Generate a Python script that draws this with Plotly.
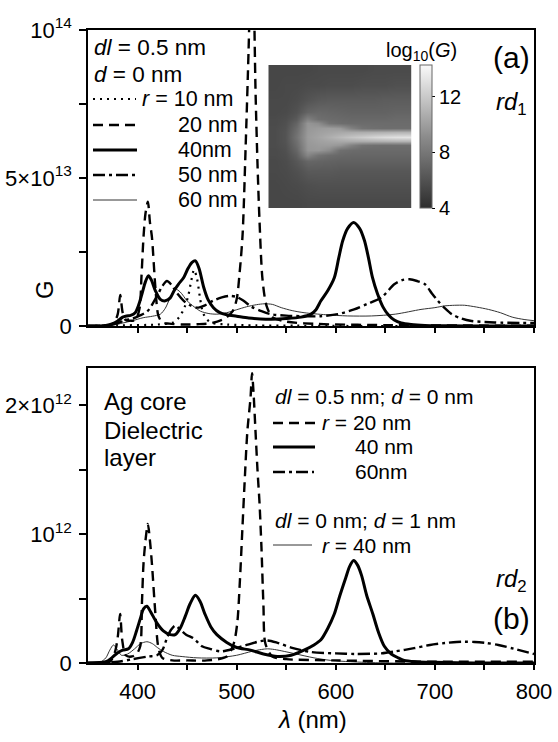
import plotly.graph_objects as go

# ---------------- data ----------------
# Panel (a): G in units of 1e13, dl = 0.5 nm, d = 0 nm
A_SCALE = 1e13
A_R10_LAM = [350, 380, 420, 436, 442, 447, 451, 454, 457, 460, 463, 466, 470, 476, 490, 520, 560, 620, 700, 800]
A_R10_G = [0, 0.02, 0.05, 0.12, 0.3, 0.6, 1.0, 1.5, 1.9, 1.6, 0.95, 0.45, 0.22, 0.1, 0.05, 0.02, 0.01, 0, 0, 0]

A_R20_LAM = [350, 370, 376, 380, 382.5, 385, 388, 393, 398, 402, 404, 406, 408, 410.4, 412.5, 414.5, 418, 421, 425,
             432, 445, 460, 475, 488, 496, 500, 503, 506, 509, 512, 514, 515.5, 517, 519, 521, 523, 526, 530, 536,
             550, 580, 650, 800]
A_R20_G = [0, 0.02, 0.1, 0.4, 1.05, 0.45, 0.2, 0.18, 0.2, 0.6, 1.7, 3.0, 3.8, 4.2, 3.5, 3.0, 1.3, 0.35, 0.12,
           0.08, 0.05, 0.06, 0.1, 0.25, 0.5, 0.9, 1.8, 3.1, 6.0, 9.3, 12.0, 14.0, 12.0, 8.0, 5.5, 3.6, 1.6, 0.7, 0.3,
           0.15, 0.07, 0.03, 0.01]

A_R40_LAM = [350, 368, 375, 380, 385, 389, 393, 397.6, 401, 404.4, 408, 411, 414, 418, 423, 428, 433, 437, 441,
             446.6, 451, 455, 458.4, 462, 466.8, 471, 476.6, 483, 490, 500, 512, 524, 535, 550, 565, 575, 580, 585,
             592, 598.6, 603, 607, 612, 618, 624, 629, 633, 637, 642, 648, 653, 659, 666, 676, 690, 710, 750, 800]
A_R40_G = [0, 0.02, 0.08, 0.17, 0.3, 0.34, 0.36, 0.45, 0.7, 1.08, 1.5, 1.7, 1.55, 1.19, 0.9, 0.85, 0.95, 1.2, 1.4,
           1.64, 1.95, 2.15, 2.2, 1.95, 1.3, 0.9, 0.62, 0.45, 0.38, 0.33, 0.27, 0.24, 0.23, 0.25, 0.3, 0.4, 0.55,
           0.85, 1.2, 1.64, 2.3, 2.88, 3.3, 3.5, 3.3, 2.88, 2.3, 1.64, 1.1, 0.62, 0.38, 0.2, 0.1, 0.05, 0.02, 0.01,
           0, 0]

A_R50_LAM = [350, 372, 380, 388, 395, 402, 410, 416, 421, 425, 429.7, 434, 440, 446.6, 453, 460, 468, 476, 485, 493,
             500, 507, 515, 525, 534, 550, 570, 585, 602, 618.5, 632, 646, 659, 667, 674.5, 682, 690, 697, 703, 710,
             717, 727, 737, 760, 800]
A_R50_G = [0, 0.03, 0.1, 0.2, 0.25, 0.35, 0.5, 0.8, 1.1, 1.35, 1.52, 1.4, 1.1, 0.85, 0.7, 0.62, 0.7, 0.85, 0.97,
           1.02, 0.98, 0.85, 0.65, 0.5, 0.4, 0.35, 0.33, 0.33, 0.4, 0.56, 0.75, 0.96, 1.41, 1.55, 1.58, 1.52, 1.41,
           1.1, 0.85, 0.6, 0.4, 0.25, 0.17, 0.12, 0.1]

A_R60_LAM = [350, 375, 385, 395, 405.7, 415, 423, 428, 433, 438, 443, 450, 457, 463.5, 472, 480, 490, 500, 510, 520,
             528, 536, 545, 556, 568, 590, 612, 636, 660, 686, 700, 710, 720, 730, 742, 754, 766, 778, 790, 800]
A_R60_G = [0, 0.03, 0.1, 0.18, 0.28, 0.33, 0.4, 0.6, 0.96, 1.25, 1.15, 0.85, 0.65, 0.5, 0.42, 0.4, 0.45, 0.55, 0.65,
           0.72, 0.75, 0.73, 0.62, 0.52, 0.45, 0.38, 0.34, 0.34, 0.4, 0.56, 0.62, 0.68, 0.7, 0.7, 0.64, 0.56, 0.45,
           0.3, 0.22, 0.18]

# Panel (b): G in units of 1e12
B_SCALE = 1e12
B_R20_LAM = [350, 372, 377, 380, 382.4, 384.5, 388, 394, 399, 402.7, 404.4, 406, 408, 410.4, 412.5, 414.5, 418, 421,
             425, 435, 450, 470, 490, 497, 500.6, 503, 505.7, 508, 510.8, 514, 515.5, 517, 519, 521, 523, 525, 527,
             529, 536, 550, 600, 700, 800]
B_R20_G = [0, 0.01, 0.08, 0.2, 0.38, 0.18, 0.06, 0.05, 0.07, 0.13, 0.46, 0.77, 0.95, 1.08, 0.95, 0.77, 0.38, 0.12,
           0.04, 0.02, 0.02, 0.02, 0.05, 0.15, 0.31, 0.6, 1.03, 1.4, 1.8, 2.06, 2.25, 2.1, 1.8, 1.5, 1.25, 0.9, 0.45,
           0.15, 0.05, 0.03, 0.02, 0.01, 0.01]

B_R40_LAM = [350, 368, 374, 380, 385, 390.8, 395, 399, 403, 406, 409.4, 413, 419.6, 426, 433, 438, 443, 448, 453,
             458.4, 463, 468, 474, 480, 490, 500, 514, 527, 541, 555, 568, 578, 585, 592, 598.5, 604, 610, 614, 618,
             622, 626, 631, 637.4, 643, 649, 656, 663, 669, 680, 700, 740, 800]
B_R40_G = [0, 0.01, 0.04, 0.08, 0.1, 0.11, 0.16, 0.25, 0.35, 0.42, 0.44, 0.4, 0.31, 0.25, 0.22, 0.22, 0.27, 0.36,
           0.46, 0.525, 0.48, 0.38, 0.28, 0.22, 0.16, 0.12, 0.1, 0.07, 0.05, 0.06, 0.1, 0.14, 0.18, 0.27, 0.38, 0.52,
           0.66, 0.75, 0.795, 0.76, 0.68, 0.53, 0.38, 0.24, 0.13, 0.07, 0.04, 0.02, 0.01, 0.005, 0, 0]

B_R60_LAM = [350, 380, 395, 410, 419.6, 425, 430, 434, 438, 443, 449, 456.7, 465, 473, 483.7, 497, 510, 524, 531,
             540, 555, 575, 600, 620, 646, 660, 679, 695, 710, 722, 730, 740, 752, 764, 780, 800]
B_R60_G = [0, 0.01, 0.03, 0.05, 0.06, 0.1, 0.2, 0.26, 0.29, 0.26, 0.22, 0.19, 0.13, 0.11, 0.09, 0.11, 0.14, 0.17,
           0.175, 0.16, 0.12, 0.085, 0.075, 0.07, 0.075, 0.09, 0.115, 0.14, 0.155, 0.163, 0.165, 0.163, 0.155, 0.14,
           0.11, 0.07]

# dl = 0 nm; d = 1 nm, r = 40 nm
B_D1_LAM = [350, 362, 368, 372, 375.7, 379, 383.8, 390, 397, 403, 409.4, 415, 420, 426, 435, 445, 460, 480, 500, 515,
            525, 531, 538, 548, 560, 578, 595, 615, 650, 800]
B_D1_G = [0, 0.005, 0.04, 0.1, 0.14, 0.11, 0.06, 0.07, 0.11, 0.15, 0.165, 0.15, 0.12, 0.09, 0.06, 0.05, 0.04, 0.04,
          0.06, 0.09, 0.105, 0.11, 0.105, 0.09, 0.07, 0.04, 0.02, 0.01, 0, 0]

# Inset map: log10(G) on a coarse grid (columns left->right, rows top->bottom)
INSET_U = [5.5, 16.5, 27.5, 38.5, 49.5, 60.5, 71.5, 82.5, 93.5, 104.5, 115.5, 126.5, 137.5]
INSET_V = [5, 20, 35, 47, 54, 58, 63, 67, 71.5, 76, 80, 85, 90, 96, 106, 120, 138]
INSET_Z = [
    [5.4, 5.4, 5.4, 5.4, 5.5, 5.5, 5.5, 5.5, 5.5, 5.6, 5.6, 5.6, 5.6],
    [5.4, 5.5, 5.5, 5.6, 5.6, 5.7, 5.7, 5.7, 5.8, 5.8, 5.8, 5.9, 5.9],
    [5.5, 5.5, 5.7, 6.1, 6.4, 6.5, 6.5, 6.5, 6.5, 6.5, 6.6, 6.6, 6.6],
    [5.5, 5.6, 6.0, 7.0, 7.2, 7.1, 7.0, 6.9, 6.9, 6.9, 6.9, 7.0, 7.0],
    [5.6, 5.8, 6.5, 8.6, 7.6, 7.4, 7.3, 7.2, 7.2, 7.2, 7.2, 7.3, 7.3],
    [5.6, 5.9, 7.0, 9.6, 9.2, 7.8, 7.5, 7.4, 7.4, 7.4, 7.4, 7.4, 7.4],
    [5.7, 6.0, 7.4, 9.7, 9.9, 10.0, 9.8, 8.6, 7.8, 7.6, 7.5, 7.5, 7.5],
    [5.7, 6.1, 7.6, 9.8, 10.1, 10.3, 10.5, 10.6, 10.7, 10.8, 10.9, 11.0, 11.0],
    [5.7, 6.1, 7.8, 9.9, 10.3, 10.8, 11.3, 11.8, 12.2, 12.6, 12.9, 13.1, 13.2],
    [5.7, 6.1, 7.6, 9.8, 10.1, 10.3, 10.5, 10.6, 10.7, 10.8, 10.9, 11.0, 11.0],
    [5.7, 6.0, 7.4, 9.7, 9.9, 9.9, 9.6, 8.6, 7.8, 7.6, 7.5, 7.5, 7.5],
    [5.6, 5.9, 7.1, 9.6, 9.7, 9.1, 7.6, 7.4, 7.3, 7.3, 7.3, 7.3, 7.3],
    [5.6, 5.8, 6.7, 8.8, 7.8, 7.4, 7.2, 7.1, 7.1, 7.1, 7.1, 7.1, 7.1],
    [5.5, 5.7, 6.3, 7.1, 7.0, 6.9, 6.8, 6.8, 6.8, 6.8, 6.8, 6.8, 6.8],
    [5.5, 5.6, 5.9, 6.4, 6.4, 6.4, 6.3, 6.3, 6.3, 6.3, 6.3, 6.3, 6.3],
    [5.4, 5.5, 5.6, 5.8, 5.9, 5.9, 5.9, 5.9, 5.9, 5.9, 5.9, 5.9, 5.9],
    [5.4, 5.4, 5.4, 5.5, 5.5, 5.5, 5.5, 5.5, 5.5, 5.5, 5.5, 5.5, 5.5],
]

# ticks
X_MAJOR = [400, 500, 600, 700, 800]
X_MAJOR_TEXT = ["400", "500", "600", "700", "800"]
X_MINOR = [450, 550, 650, 750]
X_TOP = [400, 450, 500, 550, 600, 650, 700, 750]
YA_MAJOR = [0, 5e13, 1e14]
YA_TEXT = ["0", "5\u00d710<sup>13</sup>", "10<sup>14</sup>"]
YA_MINOR = [2.5e13, 7.5e13]
YB_MAJOR = [0, 1e12, 2e12]
YB_TEXT = ["0", "10<sup>12</sup>", "2\u00d710<sup>12</sup>"]
YB_MINOR = [0.5e12, 1.5e12]
CB_TICKS = [4, 8, 12]

# ---------------- geometry ----------------
W, H = 558, 742
ML, MR, MT, MB = 88, 24, 30, 79
PW, PH = W - ML - MR, H - MT - MB


def px(x):
    return (x - ML) / PW


def py(y):
    return (H - MB - y) / PH


FONT = "Liberation Sans, Arial, Helvetica, sans-serif"

STY = {
    "dot": dict(color="black", width=2.2, dash="2px,5px"),
    "dash": dict(color="black", width=2.4, dash="10px,6px"),
    "solid": dict(color="black", width=3),
    "dashdot": dict(color="black", width=2.4, dash="12px,4px,3px,4px"),
    "thin": dict(color="#333333", width=1),
}

fig = go.Figure()


def add(lam, g, scale, style, xa, ya):
    fig.add_trace(go.Scatter(
        x=lam, y=[v * scale for v in g], mode="lines", xaxis=xa, yaxis=ya,
        line=dict(shape="spline", smoothing=0.8, **STY[style]), showlegend=False, hoverinfo="skip"))


add(A_R60_LAM, A_R60_G, A_SCALE, "thin", "x", "y")
add(A_R50_LAM, A_R50_G, A_SCALE, "dashdot", "x", "y")
add(A_R10_LAM, A_R10_G, A_SCALE, "dot", "x", "y")
add(A_R20_LAM, A_R20_G, A_SCALE, "dash", "x", "y")
add(A_R40_LAM, A_R40_G, A_SCALE, "solid", "x", "y")

add(B_D1_LAM, B_D1_G, B_SCALE, "thin", "x2", "y2")
add(B_R60_LAM, B_R60_G, B_SCALE, "dashdot", "x2", "y2")
add(B_R20_LAM, B_R20_G, B_SCALE, "dash", "x2", "y2")
add(B_R40_LAM, B_R40_G, B_SCALE, "solid", "x2", "y2")

fig.add_trace(go.Heatmap(
    z=INSET_Z, x=INSET_U, y=INSET_V, xaxis="x5", yaxis="y5", coloraxis="coloraxis",
    zsmooth="best", hoverinfo="skip"))

tickfont = dict(size=22, family=FONT, color="black")
minor_x = dict(tickvals=X_MINOR, ticks="outside", ticklen=5, tickwidth=1.5, tickcolor="black")
base_x = dict(range=[350, 800], showgrid=False, zeroline=False, showline=True, linecolor="black",
              linewidth=1.6, mirror=True, ticks="outside", ticklen=5, tickwidth=1.5, tickcolor="black",
              tickmode="array", tickvals=X_MAJOR, ticktext=X_MAJOR_TEXT, minor=minor_x, tickfont=tickfont,
              automargin=False)
top_x = dict(range=[350, 800], showgrid=False, zeroline=False, showline=False, ticks="inside", ticklen=5,
             tickwidth=1.5, tickcolor="black", tickmode="array", tickvals=X_TOP, showticklabels=False,
             side="top", automargin=False)
base_y = dict(showgrid=False, zeroline=False, showline=True, linecolor="black", linewidth=1.6, mirror=True,
              ticks="outside", ticklen=7, tickwidth=1.5, tickcolor="black", tickmode="array", tickfont=tickfont,
              ticklabelstandoff=3, automargin=False)

fig.update_layout(
    width=W, height=H, autosize=False,
    margin=dict(l=ML, r=MR, t=MT, b=MB, pad=0, autoexpand=False),
    paper_bgcolor="white", plot_bgcolor="rgba(0,0,0,0)",
    font=dict(family=FONT, color="black"),
    xaxis=dict(base_x, anchor="y", showticklabels=False),
    xaxis2=dict(base_x, anchor="y2", ticklabelstandoff=3),
    xaxis3=dict(top_x, overlaying="x", anchor="y"),
    xaxis4=dict(top_x, overlaying="x2", anchor="y2"),
    yaxis=dict(base_y, domain=[py(326), 1], range=[0, 1e14], anchor="x", tickvals=YA_MAJOR, ticktext=YA_TEXT,
               minor=dict(tickvals=YA_MINOR, ticks="outside", ticklen=7, tickwidth=1.5, tickcolor="black")),
    yaxis2=dict(base_y, domain=[0, py(368)], range=[0, 2.29e12], anchor="x2", tickvals=YB_MAJOR,
                ticktext=YB_TEXT,
                minor=dict(tickvals=YB_MINOR, ticks="outside", ticklen=7, tickwidth=1.5, tickcolor="black")),
    xaxis5=dict(domain=[px(268.3), px(411.7)], range=[0, 143], anchor="y5", visible=False, automargin=False),
    yaxis5=dict(domain=[py(208), py(65)], range=[143, 0], anchor="x5", visible=False, automargin=False),
    coloraxis=dict(
        cmin=4, cmax=14.3,
        colorscale=[[0, "rgb(45,45,45)"], [0.5, "rgb(140,140,140)"], [1, "rgb(250,250,250)"]],
        colorbar=dict(x=px(420), xanchor="left", y=py(208), yanchor="bottom", len=143 / PH, lenmode="fraction",
                      thickness=12, outlinewidth=1, outlinecolor="#666666", tickvals=CB_TICKS, ticks="outside",
                      ticklen=3, tickcolor="black", tickfont=dict(size=20, family=FONT, color="black"),
                      xpad=0, ypad=0),
    ),
)

annotations = []


def txt(s, x, y, size=21.5, xanchor="left", angle=0):
    annotations.append(dict(text=s, x=px(x), y=py(y), xref="paper", yref="paper", xanchor=xanchor,
                            yanchor="middle", showarrow=False, textangle=angle,
                            font=dict(size=size, family=FONT, color="black")))


shapes = []


def sample(style, x0, x1, y):
    st = STY[style]
    shapes.append(dict(type="line", xref="paper", yref="paper", x0=px(x0), x1=px(x1), y0=py(y), y1=py(y),
                       line=dict(color=st["color"], width=st["width"], dash=st.get("dash", "solid"))))


# panel (a) legend
txt("<i>dl</i> = 0.5 nm", 92, 48, size=22.5)
txt("<i>d</i> = 0 nm", 92, 74, size=22.5)
txt("<i>r</i> = 10 nm", 140, 99)
txt("20 nm", 176, 125)
txt("40nm", 176, 150)
txt("50 nm", 176, 175)
txt("60 nm", 176, 200)
sample("dot", 93, 136, 99)
sample("dash", 93, 138, 125)
sample("solid", 93, 137, 150)
sample("dashdot", 93, 137, 175)
sample("thin", 93, 137, 200)
txt("(a)", 511, 57, size=30, xanchor="center")
txt("<i>rd</i><sub>1</sub>", 511, 103, size=24, xanchor="center")
txt("log<sub>10</sub>(<i>G</i>)", 421, 52, size=20, xanchor="center")

# panel (b) legend
txt("Ag core", 102, 401, size=24)
txt("Dielectric", 102, 430, size=24)
txt("layer", 102, 458, size=24)
txt("<i>dl</i> = 0.5 nm; <i>d</i> = 0 nm", 273, 396, size=21)
txt("<i>r</i> = 20 nm", 320, 422, size=21)
txt("40 nm", 353, 446, size=21)
txt("60nm", 353, 471, size=21)
txt("<i>dl</i> = 0 nm; <i>d</i> = 1 nm", 273, 520, size=21)
txt("<i>r</i> = 40 nm", 320, 545, size=21)
sample("dash", 273, 317, 423)
sample("solid", 273, 315, 447)
sample("dashdot", 273, 314, 472)
sample("thin", 273, 312, 545)
txt("<i>rd</i><sub>2</sub>", 511, 580, size=24, xanchor="center")
txt("(b)", 511, 618, size=30, xanchor="center")

# axis titles
txt("G", 44, 290, size=24, xanchor="center", angle=-90)
txt("<i>\u03bb</i> (nm)", 312, 719, size=24, xanchor="center")

fig.update_layout(annotations=annotations, shapes=shapes)
fig.write_html(
    "out.html",
    config={"displayModeBar": False},
    post_script="document.body.style.margin='0';document.body.style.padding='0';"
                "document.body.style.overflow='hidden';",
)
